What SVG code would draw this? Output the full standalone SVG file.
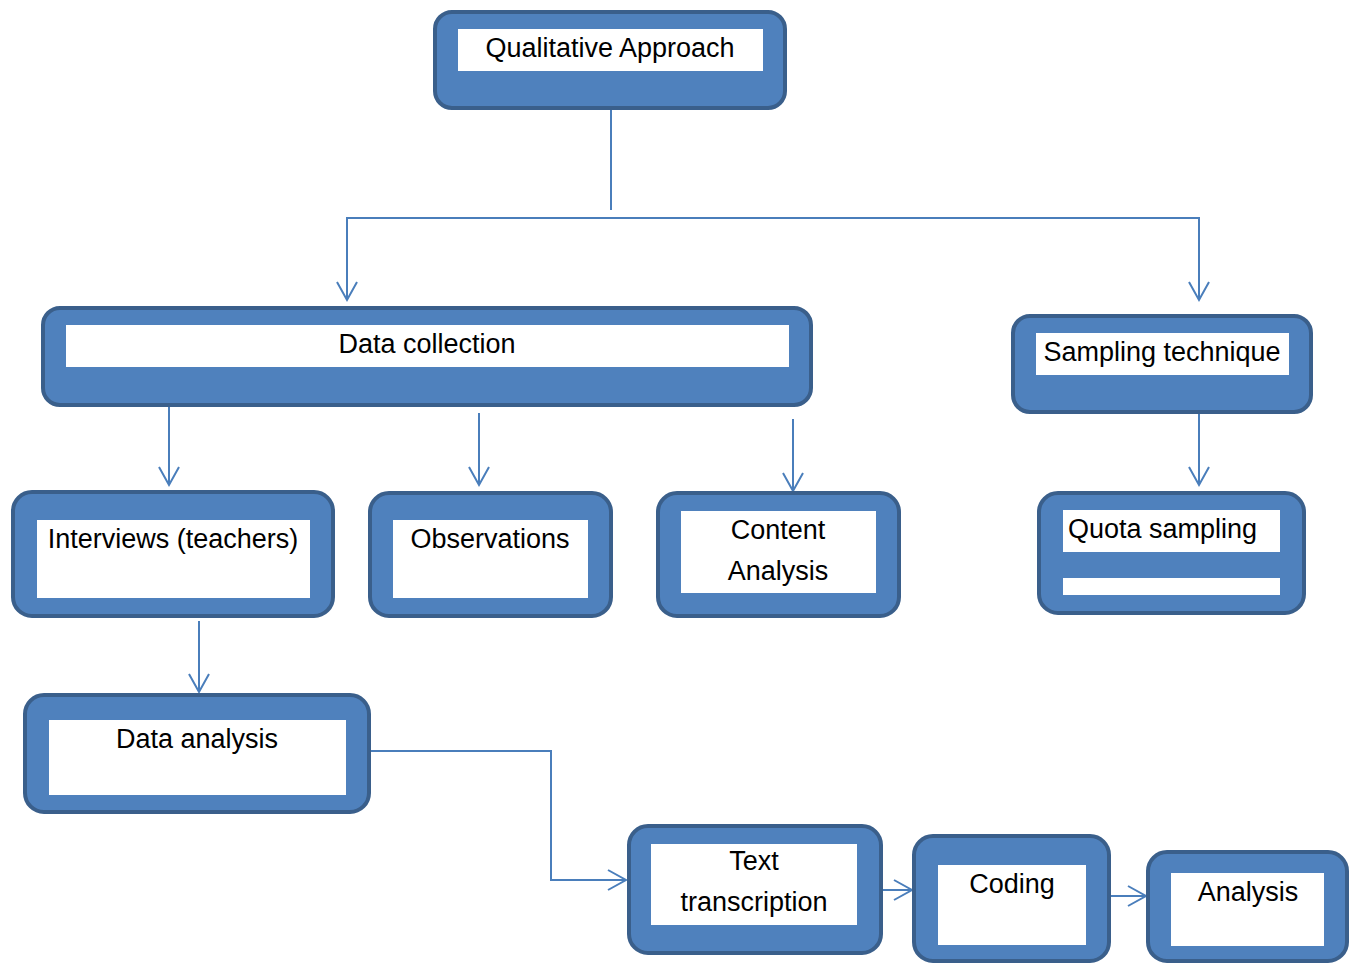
<svg xmlns="http://www.w3.org/2000/svg" width="1357" height="963" viewBox="0 0 1357 963">
<style>
.box{fill:#4f81bd;stroke:#3a5f8b;stroke-width:4}
.in{fill:#ffffff}
.t{font-family:"Liberation Sans",Arial,sans-serif;font-size:27px;fill:#000}
.c{text-anchor:middle}
.ln{fill:none;stroke:#4a7ebb;stroke-width:2}
</style>
<defs>
<marker id="arr" markerUnits="userSpaceOnUse" markerWidth="24" markerHeight="26" viewBox="-21 -12 24 24" refX="0" refY="0" orient="auto">
<path d="M -18 -10 L 0 0 L -18 10" fill="none" stroke="#4a7ebb" stroke-width="2"/>
</marker>
</defs>
<rect width="1357" height="963" fill="#ffffff"/>
<g id="connectors" class="ln">
<path d="M611 110 V210"/>
<path d="M611 218 H347 V300" marker-end="url(#arr)"/>
<path d="M611 218 H1199 V300" marker-end="url(#arr)"/>
<path d="M169 405 V485" marker-end="url(#arr)"/>
<path d="M479 413 V485" marker-end="url(#arr)"/>
<path d="M793 419 V491" marker-end="url(#arr)"/>
<path d="M1199 414 V485" marker-end="url(#arr)"/>
<path d="M199 621 V692" marker-end="url(#arr)"/>
<path d="M371 751 H551 V880 H626" marker-end="url(#arr)"/>
<path d="M883 890 H912" marker-end="url(#arr)"/>
<path d="M1111 896 H1146" marker-end="url(#arr)"/>
</g>
<g id="qualitative">
<rect class="box" x="435" y="12" width="350" height="96" rx="17"/>
<rect class="in" x="458" y="29" width="305" height="42"/>
<text class="t c" x="610" y="57">Qualitative Approach</text>
</g>
<g id="data-collection">
<rect class="box" x="43" y="308" width="768" height="97" rx="17"/>
<rect class="in" x="66" y="325" width="723" height="42"/>
<text class="t c" x="427" y="353">Data collection</text>
</g>
<g id="sampling">
<rect class="box" x="1013" y="316" width="298" height="96" rx="17"/>
<rect class="in" x="1036" y="333" width="253" height="42"/>
<text class="t c" x="1162" y="361">Sampling technique</text>
</g>
<g id="interviews">
<rect class="box" x="13" y="492" width="320" height="124" rx="19"/>
<rect class="in" x="37" y="520" width="273" height="78"/>
<text class="t c" x="173" y="548">Interviews (teachers)</text>
</g>
<g id="observations">
<rect class="box" x="370" y="493" width="241" height="123" rx="19"/>
<rect class="in" x="393" y="520" width="195" height="78"/>
<text class="t c" x="490" y="548">Observations</text>
</g>
<g id="content-analysis">
<rect class="box" x="658" y="493" width="241" height="123" rx="19"/>
<rect class="in" x="681" y="511" width="195" height="82"/>
<text class="t c" x="778" y="539">Content</text>
<text class="t c" x="778" y="580">Analysis</text>
</g>
<g id="quota">
<rect class="box" x="1039" y="493" width="265" height="120" rx="19"/>
<rect class="in" x="1063" y="510" width="217" height="42"/>
<rect class="in" x="1063" y="578" width="217" height="17"/>
<text class="t" x="1068" y="538">Quota sampling</text>
</g>
<g id="data-analysis">
<rect class="box" x="25" y="695" width="344" height="117" rx="19"/>
<rect class="in" x="49" y="720" width="297" height="75"/>
<text class="t c" x="197" y="748">Data analysis</text>
</g>
<g id="text-transcription">
<rect class="box" x="629" y="826" width="252" height="127" rx="19"/>
<rect class="in" x="651" y="844" width="206" height="81"/>
<text class="t c" x="754" y="870">Text</text>
<text class="t c" x="754" y="911">transcription</text>
</g>
<g id="coding">
<rect class="box" x="914" y="836" width="195" height="125" rx="19"/>
<rect class="in" x="938" y="865" width="148" height="80"/>
<text class="t c" x="1012" y="893">Coding</text>
</g>
<g id="analysis">
<rect class="box" x="1148" y="852" width="199" height="109" rx="19"/>
<rect class="in" x="1171" y="873" width="153" height="73"/>
<text class="t c" x="1248" y="901">Analysis</text>
</g>
</svg>
